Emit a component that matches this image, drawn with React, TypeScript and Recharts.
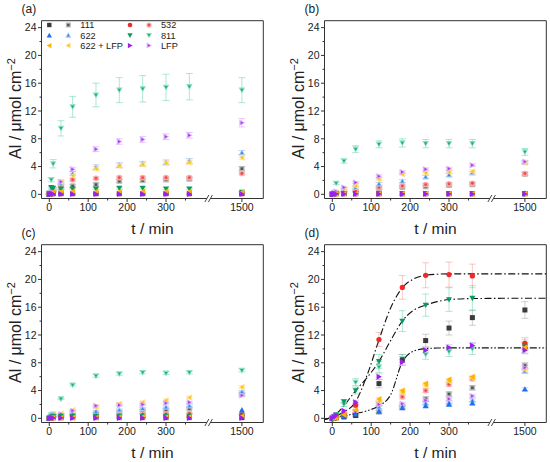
import React from 'react';
import { ComposedChart, Scatter, Line, XAxis, YAxis, ErrorBar, ReferenceArea } from 'recharts';

// ---------- categories / ticks ----------
const TIMES = [0, 5, 10, 30, 60, 120, 180, 240, 300, 360, 1500];
const SERIES = ['111', '532', '622', '811', '622 + LFP', 'LFP'];
const SHAPES = ['square', 'circle', 'up', 'down', 'left', 'right'];
const COLORS = ['#3a3a3a', '#f02828', '#1f6ff0', '#0b9a5d', '#ffb300', '#9b1ff0'];
const HALF_CORE = ['#555555', '#ee4a4a', '#3a86f0', '#1fae74', '#ffbb10', '#a83cf2'];
const PASTEL = ['#b8b8b8', '#f8a8a8', '#a2c9f7', '#86dfc0', '#ffe084', '#ddb2fa'];
const ERR_COLOR = ['#9a9a9a', '#f58a8a', '#7ab2f5', '#55cfa5', '#ffd050', '#cc8ef7'];
const X_TICKS = [0, 100, 200, 300, 1500];
const X_MINOR = [50, 150, 250, 350];
const Y_TICKS = [0, 4, 8, 12, 16, 20, 24];
const Y_MINOR = [2, 6, 10, 14, 18, 22];
const PANEL_LABELS = ['(a)', '(b)', '(c)', '(d)'];

// ---------- panel (a) ----------  rows: 111, 532, 622, 811, 622+LFP, LFP
const A_SOLID = [
  [0, 0.1, 0.1, 0.1, 0.1, 0.1, 0.1, 0.1, 0.1, 0.1, 0.1],
  [0, 0.1, 0.1, 0.1, 0.1, 0.1, 0.1, 0.1, 0.1, 0.1, 0.1],
  [0, 0.1, 0.2, 0.2, 0.2, 0.2, 0.2, 0.2, 0.2, 0.2, 0.2],
  [0.1, 1.0, 0.9, 0.8, 0.8, 0.8, 0.9, 0.9, 0.8, 0.8, 0.3],
  [0, 0.2, 0.3, 0.4, 0.4, 0.4, 0.4, 0.4, 0.4, 0.4, 0.3],
  [0, 0.05, 0.05, 0.05, 0.05, 0.05, 0.05, 0.05, 0.05, 0.05, 0.05],
];
const A_HALF = [
  [0, 0.2, 0.4, 0.8, 1.2, 1.4, 1.9, 2.0, 2.1, 2.2, 3.7],
  [0, 0.3, 0.5, 1.3, 2.1, 2.3, 2.4, 2.4, 2.4, 2.4, 3.0],
  [0, 0.3, 0.5, 1.6, 3.0, 3.9, 4.2, 4.4, 4.6, 4.8, 6.0],
  [0.2, 2.1, 4.4, 9.5, 12.6, 14.3, 15.0, 15.2, 15.4, 15.5, 15.0],
  [0, 0.3, 0.6, 1.8, 2.7, 3.7, 4.1, 4.3, 4.5, 4.6, 5.3],
  [0, 0.4, 0.8, 1.8, 3.6, 6.5, 7.6, 7.9, 8.3, 8.5, 10.3],
];
const A_SOLID_ERR = [
  [0, 0, 0, 0, 0, 0, 0, 0, 0, 0, 0],
  [0, 0, 0, 0, 0, 0, 0, 0, 0, 0, 0],
  [0, 0, 0, 0, 0, 0, 0, 0, 0, 0, 0],
  [0, 0.1, 0.1, 0.1, 0.15, 0.15, 0.15, 0.15, 0.15, 0.15, 0.1],
  [0, 0, 0, 0, 0, 0, 0, 0, 0, 0, 0],
  [0, 0, 0, 0, 0, 0, 0, 0, 0, 0, 0],
];
const A_HALF_ERR = [
  [0.05, 0.1, 0.1, 0.15, 0.2, 0.2, 0.2, 0.2, 0.2, 0.2, 0.3],
  [0.05, 0.1, 0.1, 0.15, 0.2, 0.2, 0.2, 0.2, 0.2, 0.2, 0.2],
  [0.05, 0.1, 0.1, 0.2, 0.3, 0.35, 0.35, 0.35, 0.35, 0.35, 0.3],
  [0.1, 0.3, 0.6, 1.1, 1.5, 1.7, 1.8, 1.9, 1.9, 1.9, 1.8],
  [0.05, 0.1, 0.1, 0.2, 0.3, 0.3, 0.3, 0.3, 0.3, 0.3, 0.3],
  [0.05, 0.1, 0.2, 0.3, 0.3, 0.35, 0.4, 0.4, 0.4, 0.4, 0.6],
];

// ---------- panel (b) ----------
const B_SOLID = [
  [0, 0.1, 0.1, 0.1, 0.1, 0.1, 0.1, 0.1, 0.1, 0.1, 0.1],
  [0, 0.1, 0.1, 0.1, 0.1, 0.1, 0.1, 0.1, 0.1, 0.1, 0.1],
  [0, 0.1, 0.1, 0.1, 0.1, 0.1, 0.1, 0.1, 0.1, 0.1, 0.15],
  [0, 0.1, 0.1, 0.1, 0.1, 0.1, 0.1, 0.1, 0.1, 0.1, 0.1],
  [0, 0.1, 0.1, 0.1, 0.1, 0.1, 0.1, 0.1, 0.1, 0.1, 0.1],
  [0, 0.05, 0.05, 0.05, 0.05, 0.05, 0.05, 0.05, 0.05, 0.05, 0.05],
];
const B_HALF = [
  [0, 0.1, 0.2, 0.3, 0.4, 0.8, 1.0, 1.1, 1.3, 1.4, 2.9],
  [0, 0.1, 0.2, 0.3, 0.5, 1.0, 1.2, 1.4, 1.5, 1.6, 3.0],
  [0, 0.2, 0.3, 0.5, 1.0, 1.5, 1.9, 2.5, 2.8, 3.1, 4.6],
  [0.1, 0.3, 1.6, 4.8, 6.5, 7.2, 7.4, 7.3, 7.3, 7.3, 6.1],
  [0, 0.2, 0.3, 0.8, 1.2, 2.2, 2.9, 3.1, 3.2, 3.3, 4.5],
  [0, 0.2, 0.4, 1.0, 1.7, 2.6, 3.2, 3.6, 3.7, 4.2, 4.7],
];
const B_HALF_ERR = [
  [0, 0.05, 0.05, 0.1, 0.1, 0.15, 0.15, 0.15, 0.2, 0.2, 0.2],
  [0, 0.05, 0.05, 0.1, 0.1, 0.15, 0.15, 0.15, 0.2, 0.2, 0.2],
  [0, 0.05, 0.05, 0.1, 0.1, 0.2, 0.2, 0.2, 0.2, 0.2, 0.2],
  [0.05, 0.1, 0.2, 0.3, 0.5, 0.5, 0.6, 0.6, 0.6, 0.6, 0.5],
  [0, 0.05, 0.05, 0.1, 0.1, 0.2, 0.2, 0.2, 0.2, 0.2, 0.2],
  [0, 0.05, 0.05, 0.1, 0.15, 0.2, 0.2, 0.2, 0.2, 0.2, 0.2],
];

// ---------- panel (c) ----------
const C_SOLID = [
  [0, 0.05, 0.1, 0.1, 0.1, 0.1, 0.1, 0.1, 0.1, 0.1, 0.1],
  [0, 0.1, 0.1, 0.1, 0.2, 0.2, 0.2, 0.2, 0.3, 0.3, 0.5],
  [0, 0.1, 0.1, 0.2, 0.2, 0.3, 0.3, 0.4, 0.4, 0.4, 1.2],
  [0, 0.2, 0.3, 0.3, 0.3, 0.3, 0.3, 0.3, 0.3, 0.3, 0.2],
  [0, 0.1, 0.1, 0.1, 0.1, 0.1, 0.15, 0.2, 0.2, 0.2, 0.3],
  [0, 0.05, 0.05, 0.05, 0.05, 0.05, 0.05, 0.05, 0.05, 0.05, 0.05],
];
const C_HALF = [
  [0, 0.1, 0.2, 0.3, 0.5, 0.7, 0.9, 1.1, 1.2, 1.4, 3.5],
  [0, 0.1, 0.2, 0.2, 0.3, 0.4, 0.5, 0.6, 0.6, 0.7, 0.6],
  [0, 0.2, 0.3, 0.4, 0.7, 1.0, 1.2, 1.4, 1.6, 1.8, 3.8],
  [0, 0.5, 0.6, 2.8, 4.8, 6.1, 6.4, 6.6, 6.5, 6.6, 6.9],
  [0, 0.3, 0.5, 0.7, 1.2, 1.6, 2.1, 2.3, 2.6, 3.0, 4.5],
  [0, 0.3, 0.5, 0.6, 1.1, 1.8, 1.9, 2.0, 2.2, 2.3, 3.3],
];
const C_HALF_ERR = [
  [0, 0.05, 0.05, 0.1, 0.1, 0.1, 0.15, 0.15, 0.15, 0.15, 0.2],
  [0, 0.05, 0.05, 0.1, 0.1, 0.1, 0.1, 0.1, 0.1, 0.1, 0.1],
  [0, 0.05, 0.05, 0.1, 0.1, 0.15, 0.15, 0.15, 0.15, 0.15, 0.2],
  [0, 0.05, 0.05, 0.1, 0.15, 0.2, 0.2, 0.2, 0.2, 0.2, 0.2],
  [0, 0.05, 0.05, 0.1, 0.1, 0.15, 0.15, 0.2, 0.2, 0.2, 0.2],
  [0, 0.05, 0.05, 0.1, 0.1, 0.15, 0.15, 0.15, 0.15, 0.15, 0.2],
];

// ---------- panel (d) ----------
const D_SOLID = [
  [0, 0.05, 0.1, 0.2, 0.4, 5.0, 8.4, 11.2, 13.0, 14.5, 15.6],
  [-0.1, 0.1, 0.2, 0.6, 1.9, 11.35, 18.85, 20.6, 20.7, 20.5, 10.8],
  [0, 0.05, 0.1, 0.3, 0.6, 1.0, 1.5, 1.8, 2.0, 2.2, 4.2],
  [-0.1, 0.2, 0.5, 2.4, 4.0, 8.2, 14.0, 16.3, 17.1, 17.3, 10.3],
  [0, 0.1, 0.1, 0.5, 1.2, 2.8, 4.0, 5.0, 5.6, 6.0, 10.2],
  [0, 0.2, 0.4, 1.1, 2.3, 6.0, 8.1, 9.8, 10.2, 10.5, 9.8],
];
const D_HALF = [
  [0, 0.05, 0.1, 0.3, 0.5, 0.9, 1.6, 2.8, 3.5, 4.4, 7.6],
  [0, 0.1, 0.2, 0.5, 1.0, 2.1, 3.1, 4.0, 4.9, 5.7, 10.5],
  [0, 0.05, 0.1, 0.3, 0.7, 1.6, 1.8, 2.2, 2.3, 2.6, 6.8],
  [0, 0.3, 0.5, 2.0, 5.2, 7.4, 8.6, 9.2, 9.6, 10.0, 10.4],
  [0, 0.05, 0.1, 0.3, 0.7, 2.4, 3.7, 4.7, 5.3, 5.8, 7.0],
  [0, 0.1, 0.2, 0.6, 1.0, 2.0, 2.1, 2.6, 2.8, 3.2, 7.3],
];
const D_SOLID_ERR = [
  [0, 0, 0, 0.1, 0.2, 0.6, 0.8, 0.9, 1.0, 1.1, 1.2],
  [0, 0.05, 0.1, 0.2, 0.3, 1.0, 1.7, 1.8, 1.8, 1.7, 0.8],
  [0, 0, 0, 0.05, 0.1, 0.15, 0.2, 0.2, 0.2, 0.2, 0.2],
  [0, 0.1, 0.1, 0.3, 0.5, 1.0, 1.5, 1.6, 1.7, 1.8, 1.0],
  [0, 0, 0, 0.1, 0.1, 0.2, 0.2, 0.2, 0.2, 0.2, 0.3],
  [0, 0.05, 0.1, 0.2, 0.3, 0.4, 0.4, 0.4, 0.4, 0.4, 0.4],
];
const D_HALF_ERR = [
  [0, 0, 0, 0.1, 0.1, 0.2, 0.2, 0.3, 0.3, 0.3, 0.4],
  [0, 0.05, 0.05, 0.1, 0.2, 0.3, 0.3, 0.3, 0.3, 0.3, 0.4],
  [0, 0, 0, 0.1, 0.1, 0.2, 0.2, 0.2, 0.2, 0.2, 0.3],
  [0, 0.1, 0.2, 0.3, 0.5, 0.8, 0.6, 0.7, 0.7, 0.8, 0.6],
  [0, 0, 0, 0.1, 0.1, 0.2, 0.2, 0.2, 0.2, 0.2, 0.3],
  [0, 0.05, 0.05, 0.1, 0.2, 0.2, 0.2, 0.2, 0.2, 0.2, 0.3],
];

// fitted curves in panel (d)
const FIT_T = [-20, 0, 30, 60, 90, 120, 150, 180, 210, 240, 270, 300, 360, 1555];
const FIT_532 = [-0.2, 0.2, 0.9, 2.4, 6.3, 11.3, 15.9, 18.8, 20.1, 20.6, 20.75, 20.8, 20.8, 20.8];
const FIT_811 = [-0.2, 0.2, 1.8, 4.0, 5.9, 8.2, 11.2, 14.0, 15.6, 16.3, 16.8, 17.1, 17.25, 17.3];
const FIT_3 = [-0.1, 0.1, 0.35, 0.7, 1.1, 1.8, 3.4, 8.1, 9.7, 10.05, 10.12, 10.15, 10.15, 10.15];

// ---------- layout ----------
const FONT = '"Liberation Sans", Arial, Helvetica, sans-serif';
const W = 268;
const H = 238;
const PLOT_L = 41.5;
const PLOT_T = 20.7;
const PLOT_R = 263.3;
const PLOT_B = 198.5;
const X_DOMAIN: [number, number] = [-20, 550];
const Y_DOMAIN: [number, number] = [-0.6, 25];
const BREAK_AT = 410;
const BREAK_SHIFT = 1005;
const PANEL_POS = [
  [0, 0],
  [282.8, 0],
  [0, 224.3],
  [282.8, 224.3],
];

const disp = (t: number) => (t <= BREAK_AT ? t : t - BREAK_SHIFT);
const xPx = (d: number) => PLOT_L + ((d - X_DOMAIN[0]) / (X_DOMAIN[1] - X_DOMAIN[0])) * (PLOT_R - PLOT_L);

function shapePoints(kind: string, cx: number, cy: number, t: number) {
  if (kind === 'up') return `${cx},${cy - t} ${cx + t},${cy + 0.8 * t} ${cx - t},${cy + 0.8 * t}`;
  if (kind === 'down') return `${cx - t},${cy - 0.8 * t} ${cx + t},${cy - 0.8 * t} ${cx},${cy + t}`;
  if (kind === 'left') return `${cx - t},${cy} ${cx + 0.8 * t},${cy - t} ${cx + 0.8 * t},${cy + t}`;
  return `${cx + t},${cy} ${cx - 0.8 * t},${cy - t} ${cx - 0.8 * t},${cy + t}`;
}

function Shape({ cx, cy, kind, color, r }: { cx: number; cy: number; kind: string; color: string; r: number }) {
  if (kind === 'square') return <rect x={cx - r} y={cy - r} width={2 * r} height={2 * r} fill={color} />;
  if (kind === 'circle') return <circle cx={cx} cy={cy} r={r * 1.05} fill={color} />;
  return <polygon points={shapePoints(kind, cx, cy, r * 1.2)} fill={color} />;
}

type MarkProps = { cx: number; cy: number; kind: string; idx: number; half: boolean; r: number };

function Mark({ cx, cy, kind, idx, half, r }: MarkProps) {
  if (cx == null || cy == null || isNaN(cx) || isNaN(cy)) return null;
  if (!half) return <Shape cx={cx} cy={cy} kind={kind} color={COLORS[idx]} r={r} />;
  return (
    <g>
      <Shape cx={cx} cy={cy} kind={kind} color={PASTEL[idx]} r={r} />
      <Shape cx={cx} cy={cy} kind={kind} color={HALF_CORE[idx]} r={r * 0.5} />
    </g>
  );
}

const X_ALL = [...X_TICKS.map(disp), ...X_MINOR.map(disp)];
const Y_ALL = [...Y_TICKS, ...Y_MINOR];

const XTick = (props: any) => {
  const { x, y, payload } = props;
  const idx = X_TICKS.findIndex((t) => Math.abs(disp(t) - payload.value) < 1e-6);
  const major = idx >= 0;
  return (
    <g>
      <line x1={x} x2={x} y1={y} y2={y + (major ? 3.5 : 2)} stroke="#333" strokeWidth={1} />
      {major && (
        <text x={x} y={y + 5} dy="0.71em" textAnchor="middle" fontSize={10.5} fill="#222" fontFamily={FONT}>
          {X_TICKS[idx]}
        </text>
      )}
    </g>
  );
};

const YTick = (props: any) => {
  const { x, y, payload } = props;
  const major = Y_TICKS.includes(payload.value);
  return (
    <g>
      <line x1={x - (major ? 3.5 : 2)} x2={x} y1={y} y2={y} stroke="#333" strokeWidth={1} />
      {major && (
        <text x={x - 5} y={y} dy="0.36em" textAnchor="end" fontSize={10.5} fill="#222" fontFamily={FONT}>
          {payload.value}
        </text>
      )}
    </g>
  );
};

const toPoints = (vals: number[], errs?: number[]) =>
  TIMES.map((t, i) => ({ x: disp(t), y: vals[i], e: errs ? errs[i] : 0 }));

const fitPoints = (vals: number[]) => FIT_T.map((t, i) => ({ x: disp(t), y: vals[i] }));

type PanelData = {
  solid: number[][];
  half: number[][];
  solidErr?: number[][];
  halfErr?: number[][];
  fits?: { vals: number[]; dash: string }[];
};

const PANELS: PanelData[] = [
  { solid: A_SOLID, half: A_HALF, solidErr: A_SOLID_ERR, halfErr: A_HALF_ERR },
  { solid: B_SOLID, half: B_HALF, halfErr: B_HALF_ERR },
  { solid: C_SOLID, half: C_HALF, halfErr: C_HALF_ERR },
  {
    solid: D_SOLID,
    half: D_HALF,
    solidErr: D_SOLID_ERR,
    halfErr: D_HALF_ERR,
    fits: [
      { vals: FIT_532, dash: '7 2.5 1.5 2.5' },
      { vals: FIT_811, dash: '7 2.5 1.5 2.5' },
      { vals: FIT_3, dash: '7 2 1.5 2 1.5 2' },
    ],
  },
];

function Legend() {
  const rowY = [25, 35.3, 45.6];
  const colX = [49.3, 130];
  const items: any[] = [];
  SERIES.forEach((name, i) => {
    const col = i % 2;
    const row = Math.floor(i / 2);
    const x = colX[col];
    const y = rowY[row];
    items.push(
      <g key={name}>
        <Mark cx={x} cy={y} kind={SHAPES[i]} idx={i} half={false} r={2.2} />
        <Mark cx={x + 19} cy={y} kind={SHAPES[i]} idx={i} half={true} r={2.5} />
        <text x={x + 31} y={y} dy="0.35em" fontSize={9.2} fill="#222" fontFamily={FONT}>
          {name}
        </text>
      </g>
    );
  });
  return <g>{items}</g>;
}

function Panel({ index }: { index: number }) {
  const p = PANELS[index];
  const [left, top] = PANEL_POS[index];
  const bx1 = xPx(405);
  const bx2 = xPx(414);
  return (
    <div style={{ position: 'absolute', left, top, width: W, height: H }}>
      <ComposedChart width={W} height={H} margin={{ top: PLOT_T, right: W - PLOT_R, bottom: 0, left: 0 }}>
        <XAxis
          type="number"
          dataKey="x"
          domain={X_DOMAIN}
          allowDataOverflow
          ticks={X_ALL}
          interval={0}
          tick={<XTick />}
          tickLine={false}
          tickSize={0}
          tickMargin={0}
          axisLine={false}
          height={H - PLOT_B}
        />
        <YAxis
          type="number"
          dataKey="y"
          domain={Y_DOMAIN}
          allowDataOverflow
          ticks={Y_ALL}
          interval={0}
          tick={<YTick />}
          tickLine={false}
          tickSize={0}
          tickMargin={0}
          axisLine={false}
          width={PLOT_L}
        />
        <ReferenceArea
          x1={X_DOMAIN[0]}
          x2={X_DOMAIN[1]}
          y1={Y_DOMAIN[0]}
          y2={Y_DOMAIN[1]}
          fill="none"
          fillOpacity={0}
          stroke="#333"
          strokeWidth={1}
          ifOverflow="visible"
        />
        {p.half.map((vals, i) => (
          <Scatter
            key={'h' + i}
            name={SERIES[i] + ' half'}
            data={toPoints(vals, p.halfErr ? p.halfErr[i] : undefined)}
            dataKey="y"
            isAnimationActive={false}
            shape={(sp: any) => <Mark cx={sp.cx} cy={sp.cy} kind={SHAPES[i]} idx={i} half={true} r={2.7} />}
          >
            {p.halfErr && (
              <ErrorBar dataKey="e" direction="y" width={3.5} stroke={ERR_COLOR[i]} strokeOpacity={0.6} strokeWidth={0.8} isAnimationActive={false} />
            )}
          </Scatter>
        ))}
        {p.solid.map((vals, i) => (
          <Scatter
            key={'s' + i}
            name={SERIES[i]}
            data={toPoints(vals, p.solidErr ? p.solidErr[i] : undefined)}
            dataKey="y"
            isAnimationActive={false}
            shape={(sp: any) => <Mark cx={sp.cx} cy={sp.cy} kind={SHAPES[i]} idx={i} half={false} r={2.5} />}
          >
            {p.solidErr && (
              <ErrorBar dataKey="e" direction="y" width={3.5} stroke={ERR_COLOR[i]} strokeOpacity={0.6} strokeWidth={0.8} isAnimationActive={false} />
            )}
          </Scatter>
        ))}
        {p.fits &&
          p.fits.map((f, k) => (
            <Line
              key={'f' + k}
              data={fitPoints(f.vals)}
              dataKey="y"
              type="monotone"
              dot={false}
              activeDot={false}
              stroke="#111"
              strokeWidth={1.1}
              strokeDasharray={f.dash}
              isAnimationActive={false}
            />
          ))}
      </ComposedChart>
      <svg width={W} height={H} style={{ position: 'absolute', left: 0, top: 0, pointerEvents: 'none', overflow: 'visible' }}>
        <text x={21.5} y={12.5} fontSize={12} fill="#222" fontFamily={FONT}>
          {PANEL_LABELS[index]}
        </text>
        <text
          transform={`translate(20.5, ${(PLOT_T + PLOT_B) / 2 - 1}) rotate(-90)`}
          textAnchor="middle"
          fontSize={16}
          fill="#222"
          fontFamily={FONT}
        >
          Al / μmol cm
          <tspan dy={-6} fontSize={11}>
            −2
          </tspan>
        </text>
        <text x={(PLOT_L + PLOT_R) / 2} y={PLOT_B + 35.5} textAnchor="middle" fontSize={15.5} fill="#222" fontFamily={FONT}>
          t / min
        </text>
        <rect x={bx1} y={PLOT_B - 2} width={bx2 - bx1} height={4} fill="#fff" />
        <line x1={bx1 - 2} y1={PLOT_B + 3.5} x2={bx1 + 2} y2={PLOT_B - 3.5} stroke="#333" strokeWidth={0.9} />
        <line x1={bx2 - 2} y1={PLOT_B + 3.5} x2={bx2 + 2} y2={PLOT_B - 3.5} stroke="#333" strokeWidth={0.9} />
        {index === 0 && <Legend />}
      </svg>
    </div>
  );
}

export default function App() {
  return (
    <div
      style={{
        position: 'absolute',
        left: 0,
        top: 0,
        width: 550,
        height: 462,
        overflow: 'hidden',
        background: '#fff',
        fontFamily: FONT,
      }}
    >
      {[0, 1, 2, 3].map((i) => (
        <Panel key={i} index={i} />
      ))}
    </div>
  );
}
